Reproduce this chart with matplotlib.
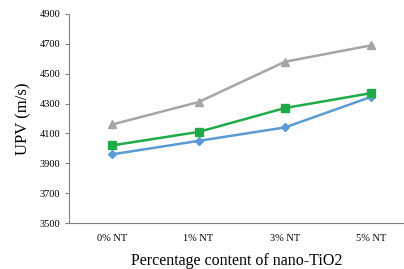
import matplotlib.pyplot as plt

categories = ["0% NT", "1% NT", "3% NT", "5% NT"]
gray_vals = [4160, 4310, 4580, 4690]
green_vals = [4020, 4110, 4270, 4370]
blue_vals = [3960, 4050, 4140, 4345]

plt.rcParams["font.family"] = ["Liberation Serif", "DejaVu Serif"]

fig = plt.figure(figsize=(4.04, 2.69), dpi=100)
ax = fig.add_axes([0.171, 0.171, 0.829, 0.777])

x = list(range(len(categories)))
ax.plot(x, gray_vals, color="#a5a5a5", marker="^", markersize=6, linewidth=1.8)
ax.plot(x, blue_vals, color="#5b9bd5", marker="D", markersize=4.5, linewidth=1.8)
ax.plot(x, green_vals, color="#1faa4a", marker="s", markersize=6, linewidth=1.8)

ax.set_xlim(-0.5, 3.38)
ax.set_ylim(3500, 4900)
ax.set_yticks(range(3500, 4901, 200))
ax.set_xticks(x)
ax.set_xticklabels(categories)
ax.tick_params(axis="x", length=0, labelsize=7.5, pad=8)
ax.tick_params(axis="y", length=3, labelsize=7.5, color="#808080")
for s in ["top", "right"]:
    ax.spines[s].set_visible(False)
for s in ["left", "bottom"]:
    ax.spines[s].set_color("#808080")

ax.set_ylabel("UPV (m/s)", fontsize=12, labelpad=6)
ax.set_xlabel("Percentage content of nano-TiO2", fontsize=11.5, labelpad=7)

fig.savefig("out.png", dpi=100)
